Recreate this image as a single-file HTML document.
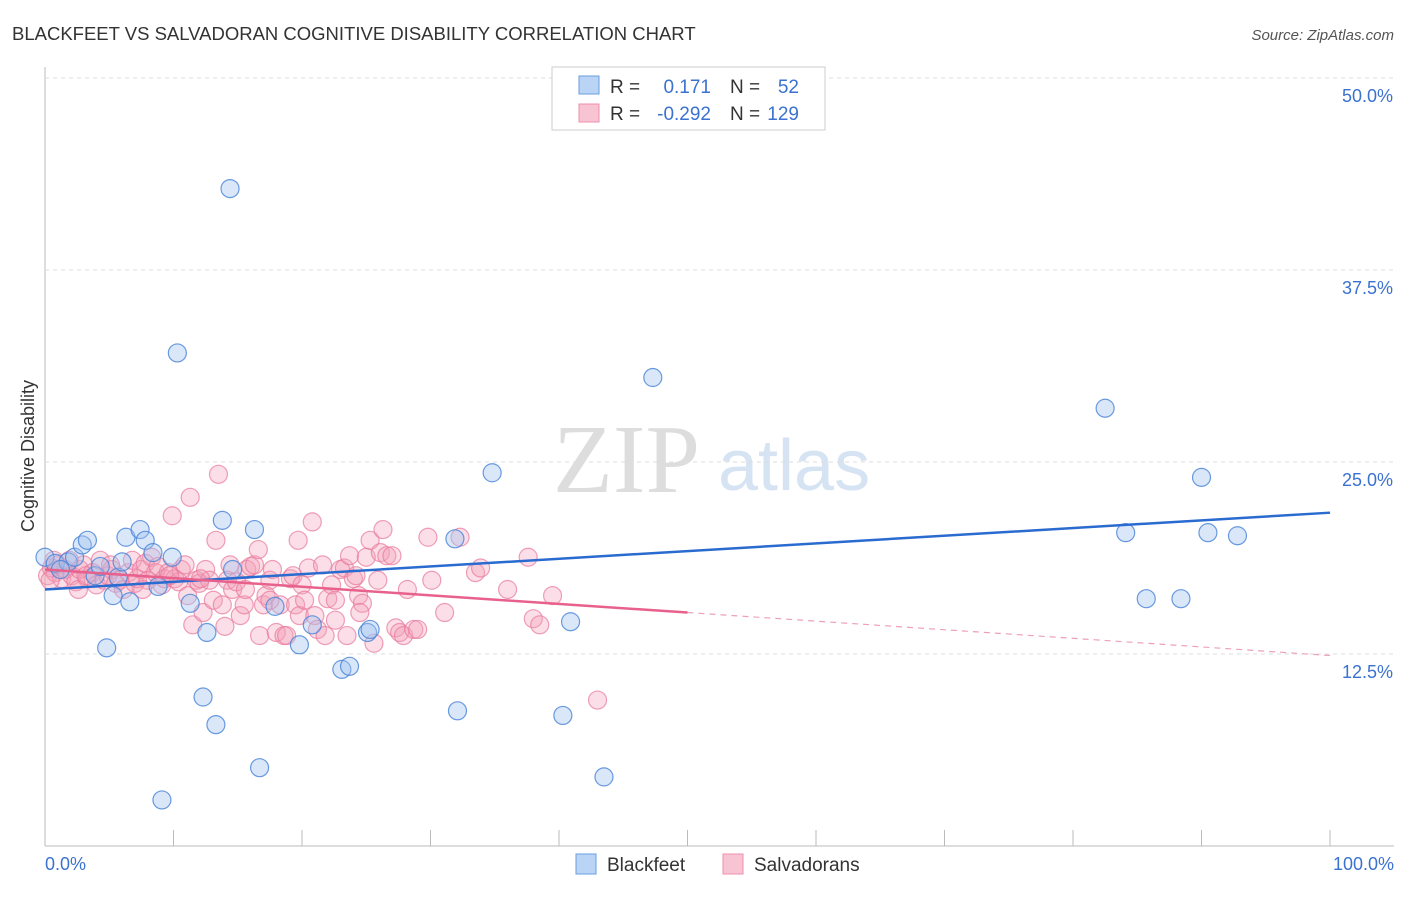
<!DOCTYPE html>
<html><head><meta charset="utf-8"><style>
body{margin:0;background:#fff;font-family:"Liberation Sans",sans-serif}
svg text{font-family:"Liberation Sans",sans-serif}
</style></head><body>
<svg id="c" width="1406" height="892" xmlns="http://www.w3.org/2000/svg">
<text x="12" y="40" font-size="18.5" fill="#333">BLACKFEET VS SALVADORAN COGNITIVE DISABILITY CORRELATION CHART</text>
<text x="1394" y="40" font-size="15" fill="#555" font-style="italic" text-anchor="end">Source: ZipAtlas.com</text>
<text x="553" y="492" font-size="98" fill="#ddd" style="font-family:'Liberation Serif',serif">ZIP</text>
<text x="718" y="490" font-size="72" fill="#d5e3f3">atlas</text>
<text x="34" y="456" font-size="18" fill="#333" transform="rotate(-90 34 456)" text-anchor="middle">Cognitive Disability</text>
<g id="grid"></g><g id="pts"></g><g id="lines"></g>
<g>
<rect x="552" y="67" width="273" height="63" fill="#fff" stroke="#ccc"/>
<rect x="579" y="76" width="20" height="18" fill="#b9d4f5" stroke="#6a9ee0"/>
<rect x="579" y="104" width="20" height="18" fill="#f8c4d4" stroke="#ee8fab"/>
<text x="610" y="93" font-size="19" fill="#333">R =</text><text x="711" y="93" font-size="19" fill="#3b72d0" text-anchor="end">0.171</text>
<text x="730" y="93" font-size="19" fill="#333">N =</text><text x="799" y="93" font-size="19" fill="#3b72d0" text-anchor="end">52</text>
<text x="610" y="120" font-size="19" fill="#333">R =</text><text x="711" y="120" font-size="19" fill="#3b72d0" text-anchor="end">-0.292</text>
<text x="730" y="120" font-size="19" fill="#333">N =</text><text x="799" y="120" font-size="19" fill="#3b72d0" text-anchor="end">129</text>
</g>
<g>
<rect x="576" y="854" width="20" height="20" fill="#b9d4f5" stroke="#6a9ee0"/><text x="607" y="871" font-size="19" fill="#333">Blackfeet</text>
<rect x="723" y="854" width="20" height="20" fill="#f8c4d4" stroke="#ee8fab"/><text x="754" y="871" font-size="19" fill="#333">Salvadorans</text>
</g>
<text x="45" y="870" font-size="18" fill="#3b72d0">0.0%</text>
<text x="1394" y="870" font-size="18" fill="#3b72d0" text-anchor="end">100.0%</text>
</svg>
<script>
const yTicks=[12.5,25,37.5,50];
const yTickLabels=["12.5%","25.0%","37.5%","50.0%"];
const xTicks=[0,10,20,30,40,50,60,70,80,90,100];
const blackfeetX=[0.0,0.8,1.8,2.3,2.9,3.3,3.9,4.3,4.8,5.3,5.7,6.0,6.3,6.6,7.4,7.8,8.4,8.8,9.1,9.9,10.3,11.3,12.3,12.6,13.3,13.8,14.4,14.6,16.3,16.7,17.9,19.8,20.8,23.1,23.7,25.1,25.3,31.9,32.1,34.8,40.3,40.9,43.5,47.3,82.5,84.1,85.7,88.4,90.0,90.5,92.8,1.2];
const blackfeetY=[18.8,18.4,18.5,18.8,19.6,19.9,17.6,18.2,12.9,16.3,17.5,18.5,20.1,15.9,20.6,19.9,19.1,16.9,3.0,18.8,32.1,15.8,9.7,13.9,7.9,21.2,42.8,18.0,20.6,5.1,15.6,13.1,14.4,11.5,11.7,13.9,14.1,20.0,8.8,24.3,8.5,14.6,4.5,30.5,28.5,20.4,16.1,16.1,24.0,20.4,20.2,18.0];
const salvX=[0.2,0.5,0.8,1.0,1.3,1.6,1.9,2.1,2.4,2.7,3.0,3.3,3.7,4.0,4.3,4.6,4.9,5.2,5.5,5.8,6.1,6.5,6.8,7.0,7.2,7.5,7.8,8.0,8.3,8.6,8.8,9.1,9.3,9.6,9.9,10.1,10.4,10.6,10.9,11.1,11.3,11.5,11.8,12.0,12.3,12.5,12.8,13.1,13.3,13.5,13.8,14.0,14.2,14.4,14.6,14.9,15.2,15.5,15.7,16.0,16.3,16.6,16.7,17.0,17.2,17.5,17.7,18.0,18.3,18.6,18.8,19.1,19.3,19.5,19.7,19.8,20.0,20.2,20.5,20.8,21.0,21.2,21.6,21.8,22.0,22.3,22.6,23.0,23.3,23.5,23.7,24.0,24.2,24.4,24.7,25.0,25.3,25.6,25.9,26.1,26.3,26.6,27.0,27.3,27.6,27.9,28.2,28.7,29.0,29.8,30.1,31.1,32.3,33.5,33.9,36.0,37.6,38.0,38.5,39.5,43.0,0.4,0.7,2.6,3.2,5.1,7.6,9.7,12.1,15.6,17.5,22.6,24.5];
const salvY=[17.6,18.1,17.8,18.3,17.4,18.0,18.6,17.6,17.2,18.0,18.3,17.4,17.8,17.0,18.6,17.3,17.6,18.0,17.1,17.3,16.7,17.8,18.6,17.1,17.4,18.0,18.4,17.3,18.8,17.8,18.2,17.0,17.4,17.8,21.5,17.4,17.2,18.0,18.3,16.3,22.7,14.4,17.3,17.1,15.2,18.0,17.3,16.0,19.9,24.2,15.7,14.3,17.3,18.3,16.7,17.2,15.0,15.7,18.0,18.2,18.3,19.3,13.7,15.7,16.3,17.3,18.0,13.9,15.7,13.7,13.7,17.4,17.6,15.7,19.9,15.0,17.0,16.0,18.1,21.1,15.0,14.1,18.3,13.7,16.1,17.0,14.7,18.0,18.1,13.7,18.9,17.4,17.6,16.3,15.8,18.8,19.9,13.2,17.3,19.1,20.6,18.9,18.9,14.2,13.9,13.7,16.7,14.1,14.1,20.1,17.3,15.2,20.1,17.8,18.1,16.7,18.8,14.8,14.4,16.3,9.5,17.3,18.6,16.7,17.6,18.3,16.7,17.6,17.4,16.7,16.0,16.0,15.2];
const trendBlue=[16.7,21.7];
const trendPink=[18.0,12.4];
const pinkSolidEnd=50;
const X=v=>45+v*12.85, Y=v=>846-v*15.36;
const NS="http://www.w3.org/2000/svg";
function mk(p,t,a){const e=document.createElementNS(NS,t);for(const k in a)e.setAttribute(k,a[k]);p.appendChild(e);return e;}
const g=document.getElementById('grid');
let ax=mk(g,'line',{x1:45,y1:67,x2:45,y2:846,stroke:'#bbb'});


let bx=mk(g,'line',{x1:45,y1:846,x2:1394,y2:846,stroke:'#bbb'});


yTicks.forEach((t,i)=>{
 const l=mk(g,'line',{x1:45,y1:Y(t),x2:1394,y2:Y(t),stroke:'#ddd','stroke-dasharray':'4 4'});
 
 
 const tx=mk(g,'text',{x:1393,y:Y(t)+24,'font-size':18,fill:'#3b72d0','text-anchor':'end'});tx.textContent=yTickLabels[i];
 
 
});
xTicks.forEach(t=>{const l=mk(g,'line',{x1:X(t),y1:830,x2:X(t),y2:846,stroke:'#bbb'});
 
 });
const pg=document.getElementById('pts');
salvX.forEach((v,i)=>{const c=mk(pg,'circle',{cx:X(v),cy:Y(salvY[i]),r:9,fill:'rgba(244,160,186,0.35)',stroke:'rgba(232,120,155,0.7)','stroke-width':1.2});
 
 });
blackfeetX.forEach((v,i)=>{const c=mk(pg,'circle',{cx:X(v),cy:Y(blackfeetY[i]),r:9,fill:'rgba(160,196,240,0.4)',stroke:'rgba(70,130,215,0.8)','stroke-width':1.2});
 
 });
const lg=document.getElementById('lines');
let b=mk(lg,'line',{x1:X(0),y1:Y(trendBlue[0]),x2:X(100),y2:Y(trendBlue[1]),stroke:'#2a6bd0','stroke-width':2.5});


const pAt=v=>trendPink[0]+(trendPink[1]-trendPink[0])*v/100;
let p=mk(lg,'line',{x1:X(0),y1:Y(pAt(0)),x2:X(pinkSolidEnd),y2:Y(pAt(pinkSolidEnd)),stroke:'#e8608c','stroke-width':2.5});


let pd=mk(lg,'line',{x1:X(pinkSolidEnd),y1:Y(pAt(pinkSolidEnd)),x2:X(100),y2:Y(pAt(100)),stroke:'#eea0b8','stroke-width':1.2,'stroke-dasharray':'6 5'});


</script>
</body></html>
